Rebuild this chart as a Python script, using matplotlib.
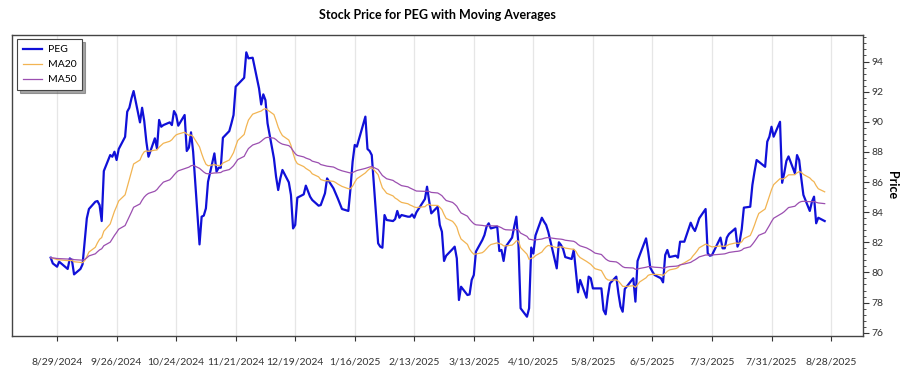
import matplotlib
matplotlib.use("Agg")
import matplotlib.pyplot as plt
from matplotlib.ticker import MultipleLocator
import pandas as pd

plt.rcParams["font.family"] = ["Lato", "DejaVu Sans"]

ticker = "PEG"
start_date = "2024-08-26"
end_date = "2025-08-25"
market_holidays = [
    "2024-09-02", "2024-11-28", "2024-12-25", "2025-01-01", "2025-01-09",
    "2025-01-20", "2025-02-17", "2025-04-18", "2025-05-26", "2025-06-19",
    "2025-07-04",
]

# closing prices, one per trading day
close_prices = [
    80.98, 80.60, 80.49, 80.38, 80.71,
    80.23, 80.93, 80.82, 79.87,
    80.23, 80.54, 82.04, 83.59, 84.21,
    84.69, 84.74, 84.47, 83.41, 86.73,
    87.79, 87.68, 88.01, 87.46, 88.19,
    89.00, 90.67, 90.93, 91.55, 92.04,
    89.96, 90.93, 90.05, 88.68, 87.68,
    88.90, 88.23, 90.12, 89.67, 89.78,
    89.96, 89.78, 90.71, 90.45, 89.74,
    90.45, 88.06, 88.28, 89.30, 88.01,
    81.86, 83.70, 83.77, 84.25, 86.02,
    87.90, 86.69, 86.95, 86.95, 88.94,
    89.38, 89.89, 90.45, 92.33, 92.48,
    92.92, 94.61, 94.21, 94.25,
    92.21, 91.15, 91.82, 91.44, 89.89,
    87.57, 86.35, 85.47, 86.24, 86.80,
    85.98, 85.14, 82.92, 83.15, 84.96,
    85.18, 85.76, 85.03, 84.81,
    84.43, 84.47, 85.25, 86.24,
    85.58, 85.25, 84.92, 84.21,
    84.08, 85.58, 87.35, 88.46, 88.35,
    90.34, 88.19, 88.06, 87.79,
    81.93, 81.71, 81.64, 83.81, 83.48,
    83.41, 83.54, 84.08, 83.63, 83.81,
    83.70, 83.70, 83.85, 83.63, 83.99,
    84.87, 85.69, 84.74, 83.92,
    84.36, 83.15, 82.70, 80.76, 81.11,
    81.55, 81.71, 80.93, 78.17, 79.05,
    78.50, 78.54, 79.50, 79.83, 81.38,
    82.15, 82.48, 83.04, 83.26, 82.92,
    83.04, 81.42, 81.49, 80.76, 81.71,
    82.31, 83.04, 83.70, 81.82, 77.62,
    77.06, 77.62, 81.65, 81.25, 82.45,
    83.63, 83.37, 83.15, 82.70,
    80.27, 82.00, 81.82, 81.55, 81.02,
    80.89, 81.49, 80.05, 78.68, 79.50,
    78.32, 79.72, 79.61, 78.94, 78.94,
    78.94, 77.50, 77.22, 78.39, 79.27,
    79.72, 78.61, 77.73, 77.39, 78.90,
    79.61, 78.06, 80.76, 81.15,
    82.26, 81.38, 80.31, 80.05, 79.83,
    79.61, 79.34, 81.15, 81.49, 81.02,
    81.11, 80.98, 82.04, 82.04,
    83.30, 82.97, 82.75, 83.15, 83.59,
    84.21, 81.27, 81.11, 81.15,
    82.31, 81.60, 81.60, 82.31, 82.55,
    82.92, 81.71, 82.04, 82.88, 84.30,
    84.36, 85.80, 86.68, 87.46, 87.35,
    87.01, 88.68, 89.01, 89.67, 89.01,
    90.00, 85.95, 86.60, 87.40, 87.70,
    86.58, 87.79, 87.46, 86.24, 85.14,
    84.08, 84.69, 85.03, 83.26, 83.63,
    83.41,
]

tick_dates = [
    "2024-08-29", "2024-09-26", "2024-10-24", "2024-11-21", "2024-12-19",
    "2025-01-16", "2025-02-13", "2025-03-13", "2025-04-10", "2025-05-08",
    "2025-06-05", "2025-07-03", "2025-07-31", "2025-08-28",
]

days = pd.bdate_range(start_date, end_date)
days = days[~days.isin(pd.to_datetime(market_holidays))]
prices = pd.Series(close_prices, index=days[: len(close_prices)])
ma20 = prices.ewm(span=20, adjust=False).mean()
ma50 = prices.ewm(span=50, adjust=False).mean()

fig = plt.figure(figsize=(9, 3.75), dpi=100)
ax = fig.add_axes([0.0133, 0.104, 0.946, 0.8035])

ax.plot(prices.index, prices.values, color="#1010d8", linewidth=1.6, label=ticker)
ax.plot(ma20.index, ma20.values, color="#f2b452", linewidth=0.9, label="MA20")
ax.plot(ma50.index, ma50.values, color="#9b4fb0", linewidth=0.9, label="MA50")

ticks = pd.to_datetime(tick_dates)
ax.set_xticks(ticks)
ax.set_xticklabels([f"{d.month}/{d.day}/{d.year}" for d in ticks], fontsize=7.5, color="#222222")
ax.set_ylim(75.78, 95.78)
ax.yaxis.set_major_locator(MultipleLocator(2))
ax.yaxis.set_minor_locator(MultipleLocator(0.4))
ax.yaxis.tick_right()
ax.yaxis.set_label_position("right")
ax.tick_params(axis="y", which="major", length=4, labelsize=7.5, pad=2, colors="#333333")
ax.tick_params(axis="y", which="minor", length=2, colors="#333333")
ax.tick_params(axis="x", length=3.5, pad=12, colors="#333333")
ax.set_ylabel("Price", fontsize=9, fontweight="bold", rotation=270, labelpad=10)
ax.set_title(f"Stock Price for {ticker} with Moving Averages", fontsize=9, fontweight="bold", pad=11)

ax.grid(axis="x", color="#e6e6e6", linewidth=0.9)
ax.set_axisbelow(True)
for spine in ax.spines.values():
    spine.set_color("#444444")
    spine.set_linewidth(1.0)

legend = ax.legend(loc="upper left", bbox_to_anchor=(0.006, 0.985), borderaxespad=0, fontsize=7.5,
                   fancybox=False, shadow=True, framealpha=1, edgecolor="#444444", handlelength=1.8,
                   borderpad=0.55, labelspacing=0.55, handletextpad=0.6)
legend.get_frame().set_linewidth(0.8)

fig.savefig("out.png", dpi=100)
